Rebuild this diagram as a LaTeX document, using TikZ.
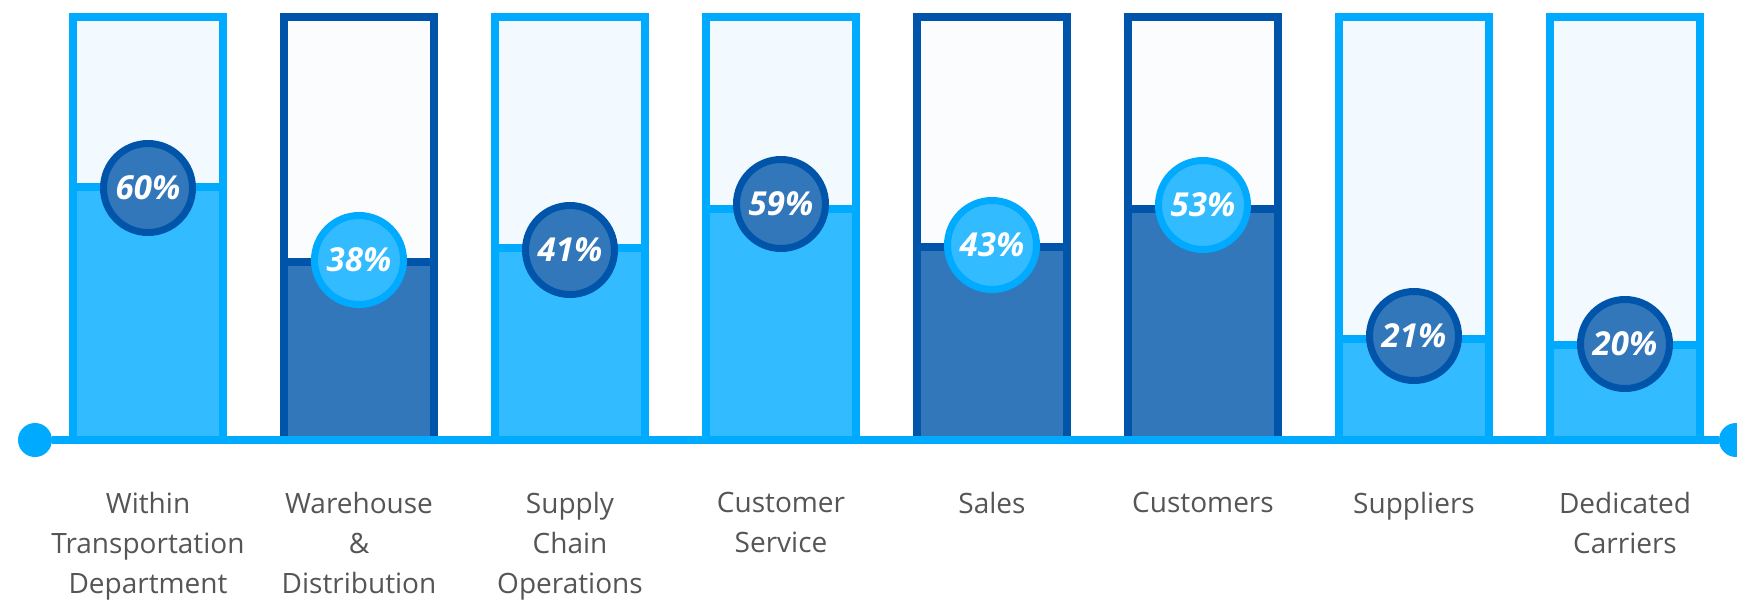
\documentclass[tikz,border=0pt]{standalone}
\usepackage{fontspec}
\setmainfont{Open Sans}
\usetikzlibrary{shapes.geometric}

\definecolor{skyline}{HTML}{00AAFF}
\definecolor{skyfill}{HTML}{33BBFF}
\definecolor{skytop}{HTML}{F2FAFF}
\definecolor{navyline}{HTML}{0055AA}
\definecolor{navyfill}{HTML}{3377BB}
\definecolor{navytop}{HTML}{FAFCFE}
\definecolor{labelgray}{HTML}{555555}

\begin{document}
\begin{tikzpicture}[x=0.5pt,y=-0.5pt]
\tikzstyle{lightbar} = [draw=skyline, line width=4pt, fill=skytop]
\tikzstyle{lightlevel} = [draw=skyline, line width=4pt, fill=skyfill]
\tikzstyle{darkbar} = [draw=navyline, line width=4pt, fill=navytop]
\tikzstyle{darklevel} = [draw=navyline, line width=4pt, fill=navyfill]
\tikzstyle{ring} = [circle, line width=3.5pt, minimum size=44.5pt, inner sep=0pt,
text=white, font=\fontsize{16.5}{18}\selectfont\bfseries\itshape]
\tikzstyle{lightring} = [ring, draw=skyline, fill=skyfill]
\tikzstyle{darkring} = [ring, draw=navyline, fill=navyfill]
\tikzstyle{deptlabel} = [anchor=north, inner sep=0pt, align=center, text=labelgray,
font=\fontsize{14}{20}\selectfont]
\tikzstyle{dot} = [circle, fill=skyline, minimum size=17pt, inner sep=0pt]
\tikzstyle{axis} = [draw=skyline, line width=4pt]

\useasboundingbox (0,0) rectangle (1737,602);

% bars, level and percentage
\foreach \i/\lev/\cy/\pct/\kind/\ring/\txt in {
 1/187/188/60/light/dark/{Within\\Transportation\\Department},
 2/262/260/38/dark/light/{Warehouse\\\&\\Distribution},
 3/248/250/41/light/dark/{Supply\\Chain\\Operations},
 4/209/204/59/light/dark/{Customer\\Service},
 5/247/245/43/dark/light/{Sales},
 6/209/205/53/dark/light/{Customers},
 7/339/336/21/light/dark/{Suppliers},
 8/345/344/20/light/dark/{Dedicated\\Carriers}}
{
\pgfmathsetmacro{\cx}{148+211*(\i-1)}
\draw[\kind bar] (\cx-75,17) rectangle (\cx+75,440);
\draw[\kind level] (\cx-75,\lev) rectangle (\cx+75,440);
\node[\ring ring] (pct\i) at (\cx,\cy) {\pct\%};
\node[deptlabel] (lab\i) at (\cx,492) {\txt};
}

% axis
\node[dot] (ldot) at (35,440) {};
\node[dot] (rdot) at (1736,440) {};
\path[axis] (ldot) -- (rdot);
\end{tikzpicture}
\end{document}
